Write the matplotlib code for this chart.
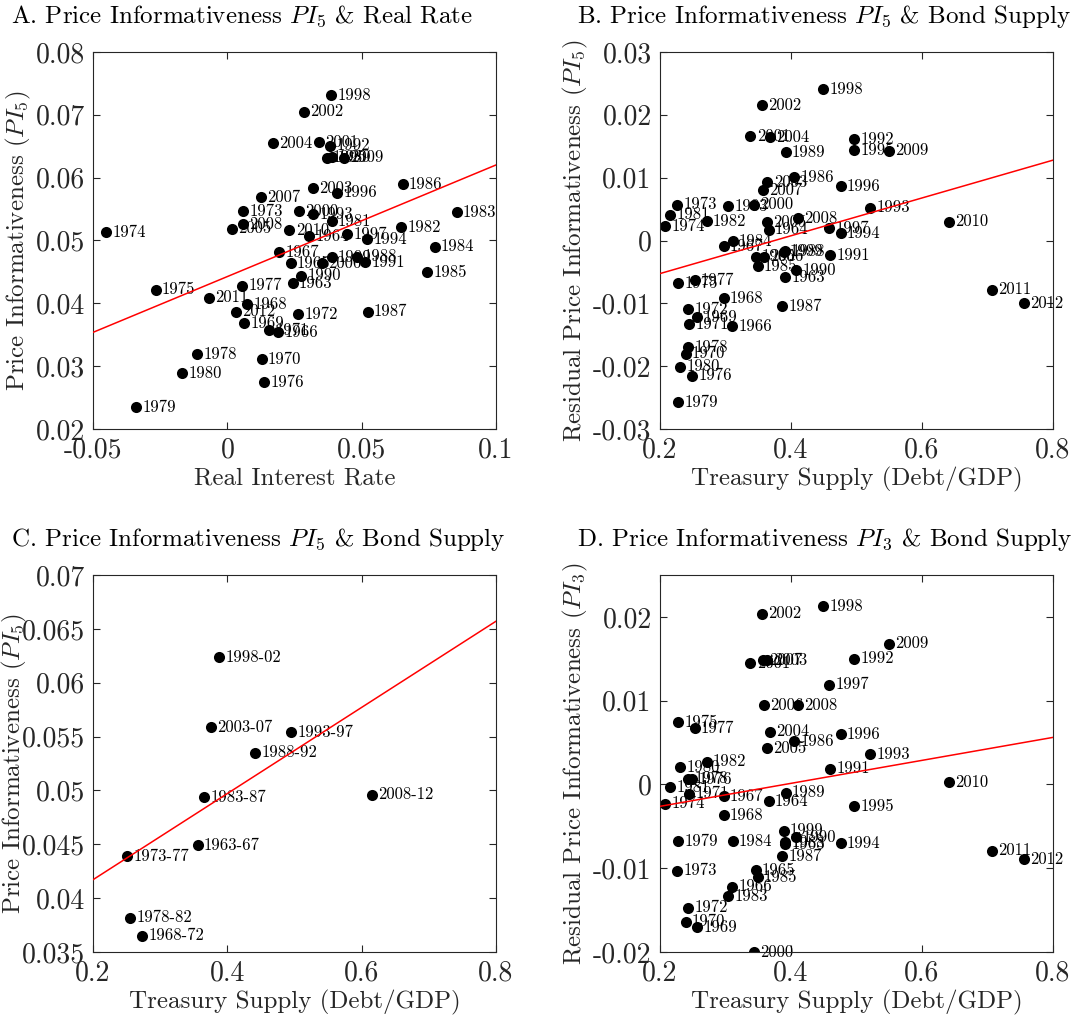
import numpy as np
import matplotlib
matplotlib.use('Agg')
import matplotlib.pyplot as plt

plt.rcParams['font.family'] = ['cmr10']
plt.rcParams['mathtext.fontset'] = 'cm'
plt.rcParams['axes.unicode_minus'] = False
plt.rcParams['axes.formatter.use_mathtext'] = True

# annual observations 1963-2012
years = list(range(1963, 2013))
real_rate = [0.0243, 0.0305, 0.0236, 0.0190, 0.0193, 0.0074, 0.0062, 0.0128, 0.0156, 0.0264,
             0.0059, -0.0452, -0.0267, 0.0136, 0.0056, -0.0112, -0.0340, -0.0169, 0.0388, 0.0646,
             0.0854, 0.0772, 0.0743, 0.0653, 0.0522, 0.0482, 0.0388, 0.0274, 0.0512, 0.0382,
             0.0320, 0.0521, 0.0370, 0.0409, 0.0447, 0.0386, 0.0388, 0.0266, 0.0341, 0.0285,
             0.0318, 0.0170, 0.0016, 0.0353, 0.0124, 0.0059, 0.0435, 0.0231, -0.0068, 0.0032]
pi5 = [0.0432, 0.0507, 0.0464, 0.0354, 0.0481, 0.0399, 0.0368, 0.0311, 0.0357, 0.0383,
       0.0547, 0.0513, 0.0422, 0.0275, 0.0428, 0.0319, 0.0235, 0.0289, 0.0531, 0.0521,
       0.0545, 0.0490, 0.0450, 0.0590, 0.0387, 0.0474, 0.0633, 0.0444, 0.0466, 0.0651,
       0.0542, 0.0502, 0.0632, 0.0576, 0.0510, 0.0731, 0.0473, 0.0547, 0.0656, 0.0705,
       0.0583, 0.0655, 0.0519, 0.0464, 0.0569, 0.0526, 0.0632, 0.0516, 0.0409, 0.0387]
debt_gdp = [0.391, 0.366, 0.346, 0.310, 0.297, 0.297, 0.257, 0.239, 0.244, 0.243,
            0.226, 0.208, 0.228, 0.249, 0.253, 0.243, 0.228, 0.231, 0.216, 0.271,
            0.304, 0.311, 0.349, 0.405, 0.387, 0.391, 0.392, 0.408, 0.460, 0.496,
            0.521, 0.476, 0.496, 0.476, 0.458, 0.449, 0.389, 0.344, 0.338, 0.355,
            0.364, 0.368, 0.363, 0.359, 0.357, 0.410, 0.549, 0.641, 0.707, 0.755]
resid_pi5 = [-0.0058, 0.0017, -0.0026, -0.0136, -0.0009, -0.0092, -0.0122, -0.0180, -0.0133, -0.0109,
             0.0057, 0.0023, -0.0068, -0.0215, -0.0063, -0.0170, -0.0257, -0.0201, 0.0041, 0.0031,
             0.0055, -0.0001, -0.0041, 0.0101, -0.0104, -0.0017, 0.0141, -0.0047, -0.0023, 0.0161,
             0.0052, 0.0012, 0.0144, 0.0086, 0.0020, 0.0241, -0.0018, 0.0057, 0.0166, 0.0215,
             0.0093, 0.0164, 0.0029, -0.0026, 0.0080, 0.0036, 0.0143, 0.0030, -0.0078, -0.0100]
resid_pi3 = [-0.0071, -0.0020, -0.0102, -0.0122, -0.0014, -0.0037, -0.0170, -0.0164, -0.0011, -0.0147,
             -0.0103, -0.0023, 0.0074, 0.0006, 0.0067, 0.0007, -0.0068, 0.0021, -0.0003, 0.0027,
             -0.0133, -0.0068, -0.0111, 0.0052, -0.0086, -0.0069, -0.0010, -0.0063, 0.0019, 0.0150,
             0.0036, -0.0070, -0.0026, 0.0060, 0.0119, 0.0213, -0.0055, -0.0200, 0.0145, 0.0204,
             0.0148, 0.0063, 0.0043, 0.0095, 0.0148, 0.0095, 0.0168, 0.0003, -0.0079, -0.0089]

# five-year averages
periods = ['1963-67', '1968-72', '1973-77', '1978-82', '1983-87',
           '1988-92', '1993-97', '1998-02', '2003-07', '2008-12']
debt_gdp_5y = [0.356, 0.273, 0.251, 0.255, 0.365, 0.441, 0.495, 0.388, 0.376, 0.615]
pi5_5y = [0.0449, 0.0365, 0.0439, 0.0382, 0.0494, 0.0535, 0.0554, 0.0624, 0.0559, 0.0496]

W, H = 1073, 1021
axis_col = '#262626'


def place(l, t, r, b):
    return [l / W, 1 - b / H, (r - l) / W, (b - t) / H]


def panel(rect, x, y, labels, xlim, ylim, xticks, yticks, xlabel, ylabel, title, title_xy, ylab_x):
    ax = fig.add_axes(place(*rect))
    ax.scatter(x, y, s=64, color='black', zorder=2, linewidths=0)
    for xi, yi, lab in zip(x, y, labels):
        ax.annotate(str(lab), (xi, yi), xytext=(4.5, 0), textcoords='offset points',
                    ha='left', va='center', fontsize=12, color='black', zorder=2)
    b, a = np.polyfit(x, y, 1)
    xs = np.array(xlim)
    ax.plot(xs, a + b * xs, color='red', lw=1.1, zorder=3)
    ax.set_xlim(xlim)
    ax.set_ylim(ylim)
    ax.set_xticks(xticks)
    ax.set_xticklabels([f'{v:g}' for v in xticks])
    ax.set_yticks(yticks)
    ax.set_yticklabels([f'{v:g}' for v in yticks])
    ax.tick_params(direction='in', length=5, width=0.8, top=True, right=True,
                   labelsize=20, colors=axis_col, labelcolor=axis_col, pad=6)
    for s in ax.spines.values():
        s.set_color(axis_col)
        s.set_linewidth(0.8)
    ax.set_xlabel(xlabel, fontsize=18, color=axis_col)
    ax.set_ylabel(ylabel, fontsize=18, color=axis_col)
    w = rect[2] - rect[0]
    h = rect[3] - rect[1]
    ax.xaxis.set_label_coords(0.5, -38 / h)
    ax.yaxis.set_label_coords((ylab_x - rect[0]) / w, 0.5)
    fig.text(title_xy[0] / W, 1 - title_xy[1] / H, title, fontsize=18,
             ha='left', va='baseline', color='black')
    return ax


fig = plt.figure(figsize=(W / 100, H / 100), dpi=100)

panel((93, 52, 496, 429), real_rate, pi5, years,
      (-0.05, 0.1), (0.02, 0.08), [-0.05, 0, 0.05, 0.1],
      [0.02, 0.03, 0.04, 0.05, 0.06, 0.07, 0.08],
      'Real Interest Rate', r'Price Informativeness ($PI_5$)',
      r'A. Price Informativeness $PI_5$ & Real Rate', (11, 23), 33)

panel((660, 52, 1053, 429), debt_gdp, resid_pi5, years,
      (0.2, 0.8), (-0.03, 0.03), [0.2, 0.4, 0.6, 0.8],
      [-0.03, -0.02, -0.01, 0, 0.01, 0.02, 0.03],
      'Treasury Supply (Debt/GDP)', r'Residual Price Informativeness ($PI_5$)',
      r'B. Price Informativeness $PI_5$ & Bond Supply', (577, 23), 590)

panel((93, 575, 496, 952), debt_gdp_5y, pi5_5y, periods,
      (0.2, 0.8), (0.035, 0.07), [0.2, 0.4, 0.6, 0.8],
      [0.035, 0.04, 0.045, 0.05, 0.055, 0.06, 0.065, 0.07],
      'Treasury Supply (Debt/GDP)', r'Price Informativeness ($PI_5$)',
      r'C. Price Informativeness $PI_5$ & Bond Supply', (11, 546), 29)

panel((660, 575, 1053, 952), debt_gdp, resid_pi3, years,
      (0.2, 0.8), (-0.02, 0.025), [0.2, 0.4, 0.6, 0.8],
      [-0.02, -0.01, 0, 0.01, 0.02],
      'Treasury Supply (Debt/GDP)', r'Residual Price Informativeness ($PI_3$)',
      r'D. Price Informativeness $PI_3$ & Bond Supply', (577, 546), 590)

fig.savefig('out.png', dpi=100)
